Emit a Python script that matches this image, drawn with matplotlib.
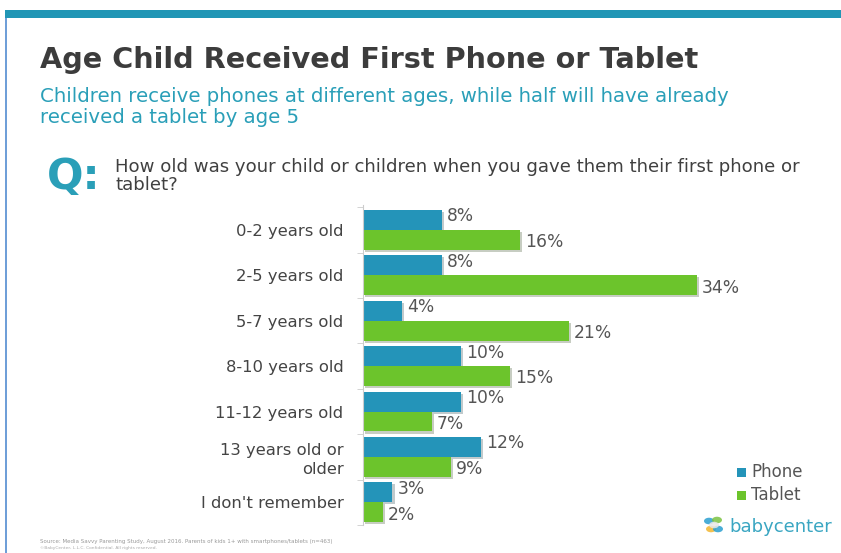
import numpy as np
import matplotlib
matplotlib.use("Agg")
import matplotlib.pyplot as plt
import matplotlib.patheffects as pe
from matplotlib.patches import Rectangle, Circle

plt.rcParams['font.family'] = ['DejaVu Sans']

ages = ["0-2 years old", "2-5 years old", "5-7 years old", "8-10 years old",
        "11-12 years old", "13 years old or\nolder", "I don't remember"]
phone = [8, 8, 4, 10, 10, 12, 3]
tablet = [16, 34, 21, 15, 7, 9, 2]

c_phone = "#2494b9"
c_tablet = "#6cc42c"
c_teal = "#2a9fb8"

fig = plt.figure(figsize=(8.41, 5.53), dpi=100)
fig.patch.set_facecolor("white")

# frame: teal band on top, thin blue line on the left
fig.add_artist(Rectangle((5/841, 1 - 18/553), 1, 8/553, transform=fig.transFigure,
                         color="#2196b5", lw=0))
fig.add_artist(Rectangle((5/841, 0), 1.5/841, 1 - 18/553, transform=fig.transFigure,
                         color="#6f9fd8", lw=0))

fig.text(40/841, 1 - 60/553, "Age Child Received First Phone or Tablet",
         fontsize=20.7, fontweight="bold", color="#3c3c3c", va="center", ha="left")
fig.text(40/841, 1 - 107/553,
         "Children receive phones at different ages, while half will have already\nreceived a tablet by age 5",
         fontsize=14.2, color=c_teal, va="center", ha="left", linespacing=1.15)
fig.text(47/841, 1 - 177/553, "Q:", fontsize=31, fontweight="bold", color=c_teal,
         va="center", ha="left")
fig.text(115/841, 1 - 176/553,
         "How old was your child or children when you gave them their first phone or\ntablet?",
         fontsize=13.1, color="#404040", va="center", ha="left", linespacing=0.95)

ax = fig.add_axes([363/841, 28/553, 377/841, 320/553])
y = np.arange(len(ages))
h = 0.44
shadow = [pe.SimplePatchShadow(offset=(1.5, -1.5), alpha=0.25), pe.Normal()]
b1 = ax.barh(y - h/2, phone, height=h, color=c_phone)
b2 = ax.barh(y + h/2, tablet, height=h, color=c_tablet)
for b in list(b1) + list(b2):
    b.set_path_effects(shadow)

for i in range(len(ages)):
    ax.text(phone[i] + 0.5, y[i] - h/2 - 0.08, f"{phone[i]}%", fontsize=12.3,
            color="#555555", va="center", ha="left")
    ax.text(tablet[i] + 0.5, y[i] + h/2 + 0.05, f"{tablet[i]}%", fontsize=12.3,
            color="#555555", va="center", ha="left")

ax.set_xlim(0, 377/9.82)
ax.set_ylim(len(ages) - 0.5, -0.55)
ax.set_yticks(y)
ax.set_yticklabels(ages, fontsize=11.8, color="#444444", linespacing=1.3)
ax.set_yticks(np.arange(len(ages) + 1) - 0.5, minor=True)
ax.tick_params(axis="y", which="major", length=0, pad=14)
ax.tick_params(axis="y", which="minor", length=4, color="#cccccc")
ax.set_xticks([])
for s in ["top", "right", "bottom"]:
    ax.spines[s].set_visible(False)
ax.spines["left"].set_color("#cccccc")
ax.set_facecolor("none")

# legend
for k, (lab, col) in enumerate([("Phone", c_phone), ("Tablet", c_tablet)]):
    yy = 1 - (472 + 23*k)/553
    fig.add_artist(Rectangle((737/841, yy - 4.5/553), 9/841, 9/553,
                             transform=fig.transFigure, color=col, lw=0))
    fig.text(751/841, yy, lab, fontsize=12, color="#555555", va="center", ha="left")

# logo
for (dx, dy, col) in [(0, 4, "#2a9fd0"), (8, 5, "#7cc242"), (2, -4, "#f2b630"),
                      (9, -4, "#2a9fd0"), (5, 0, "#e8e8e8")]:
    fig.add_artist(Circle(((709 + dx)/841, 1 - (525 - dy)/553), 5/841,
                          transform=fig.transFigure, color=col, lw=0, alpha=0.85))
fig.text(729/841, 1 - 527/553, "babycenter", fontsize=13, color="#3aa6c2",
         va="center", ha="left")

fig.text(40/841, 1 - 541/553,
         "Source: Media Savvy Parenting Study, August 2016. Parents of kids 1+ with smartphones/tablets (n=463)",
         fontsize=4, color="#999999", va="center", ha="left")
fig.text(40/841, 1 - 548/553, "\u00a9BabyCenter, L.L.C. Confidential. All rights reserved.",
         fontsize=3.2, color="#aaaaaa", va="center", ha="left")

fig.savefig("out.png", dpi=100)
